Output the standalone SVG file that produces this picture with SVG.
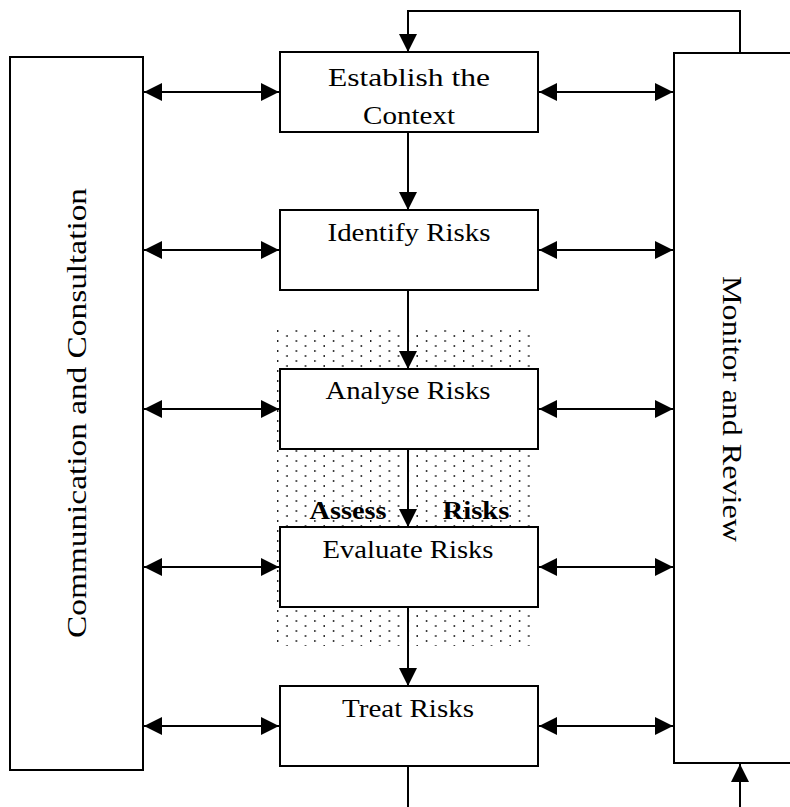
<svg xmlns="http://www.w3.org/2000/svg" width="790" height="807" viewBox="0 0 790 807">
<style>
.box{fill:#fff;stroke:#000;stroke-width:2}
.ln{fill:none;stroke:#000;stroke-width:2}
.t{font-family:"Liberation Serif","Times New Roman",serif;font-size:25px;fill:#000;text-anchor:middle}
.v{font-family:"Liberation Serif","Times New Roman",serif;font-size:28px;fill:#000;text-anchor:middle}
.b{font-family:"Liberation Serif","Times New Roman",serif;font-size:25px;font-weight:bold;fill:#000;text-anchor:middle}
</style>
<defs>
<marker id="ah" markerUnits="userSpaceOnUse" markerWidth="18" markerHeight="18" refX="18" refY="9" orient="auto-start-reverse" viewBox="0 0 18 18">
<path d="M0,0 L18,9 L0,18 z" fill="#000"/>
</marker>
<pattern id="dots" patternUnits="userSpaceOnUse" x="277" y="330" width="18.6" height="10">
<rect x="0" y="0" width="1.4" height="2" fill="#222"/>
<rect x="9.3" y="5" width="1.4" height="2" fill="#222"/>
</pattern>
</defs>
<rect width="790" height="807" fill="#fff"/>
<rect id="assess-area" x="275" y="330" width="262" height="316" fill="url(#dots)"/>
<g id="communication">
<rect class="box" x="10" y="57" width="133" height="713"/>
<text class="v" transform="translate(86,413) rotate(-90)" textLength="450" lengthAdjust="spacingAndGlyphs">Communication and Consultation</text>
</g>
<g id="monitor">
<rect class="box" x="674" y="53" width="130" height="710"/>
<text class="v" transform="translate(723,409) rotate(90)" textLength="266" lengthAdjust="spacingAndGlyphs">Monitor and Review</text>
</g>
<g id="establish">
<rect class="box" x="280" y="52" width="258" height="80"/>
<text class="t" x="409" y="86" textLength="162" lengthAdjust="spacingAndGlyphs">Establish the</text>
<text class="t" x="409" y="124" textLength="92" lengthAdjust="spacingAndGlyphs">Context</text>
</g>
<g id="identify">
<rect class="box" x="280" y="210" width="258" height="80"/>
<text class="t" x="409" y="241" textLength="163" lengthAdjust="spacingAndGlyphs">Identify Risks</text>
</g>
<g id="analyse">
<rect class="box" x="280" y="369" width="258" height="80"/>
<text class="t" x="408" y="399" textLength="165" lengthAdjust="spacingAndGlyphs">Analyse Risks</text>
</g>
<g id="evaluate">
<rect class="box" x="280" y="527" width="258" height="80"/>
<text class="t" x="408" y="558" textLength="171" lengthAdjust="spacingAndGlyphs">Evaluate Risks</text>
</g>
<g id="treat">
<rect class="box" x="280" y="686" width="258" height="80"/>
<text class="t" x="408" y="717" textLength="132" lengthAdjust="spacingAndGlyphs">Treat Risks</text>
</g>
<g id="assess-label">
<text class="b" x="348" y="519" textLength="77" lengthAdjust="spacingAndGlyphs">Assess</text>
<text class="b" x="476" y="519" textLength="67" lengthAdjust="spacingAndGlyphs">Risks</text>
</g>
<g id="connectors">
<polyline class="ln" points="740,53 740,11 408,11 408,52" marker-end="url(#ah)"/>
<line class="ln" x1="408" y1="132" x2="408" y2="210" marker-end="url(#ah)"/>
<line class="ln" x1="408" y1="290" x2="408" y2="369" marker-end="url(#ah)"/>
<line class="ln" x1="408" y1="449" x2="408" y2="527" marker-end="url(#ah)"/>
<line class="ln" x1="408" y1="607" x2="408" y2="686" marker-end="url(#ah)"/>
<line class="ln" x1="408" y1="766" x2="408" y2="807"/>
<line class="ln" x1="740" y1="807" x2="740" y2="764" marker-end="url(#ah)"/>
<line class="ln" x1="144" y1="92" x2="279" y2="92" marker-start="url(#ah)" marker-end="url(#ah)"/>
<line class="ln" x1="539" y1="92" x2="673" y2="92" marker-start="url(#ah)" marker-end="url(#ah)"/>
<line class="ln" x1="144" y1="250" x2="279" y2="250" marker-start="url(#ah)" marker-end="url(#ah)"/>
<line class="ln" x1="539" y1="250" x2="673" y2="250" marker-start="url(#ah)" marker-end="url(#ah)"/>
<line class="ln" x1="144" y1="409" x2="279" y2="409" marker-start="url(#ah)" marker-end="url(#ah)"/>
<line class="ln" x1="539" y1="409" x2="673" y2="409" marker-start="url(#ah)" marker-end="url(#ah)"/>
<line class="ln" x1="144" y1="567" x2="279" y2="567" marker-start="url(#ah)" marker-end="url(#ah)"/>
<line class="ln" x1="539" y1="567" x2="673" y2="567" marker-start="url(#ah)" marker-end="url(#ah)"/>
<line class="ln" x1="144" y1="726" x2="279" y2="726" marker-start="url(#ah)" marker-end="url(#ah)"/>
<line class="ln" x1="539" y1="726" x2="673" y2="726" marker-start="url(#ah)" marker-end="url(#ah)"/>
</g>
</svg>
